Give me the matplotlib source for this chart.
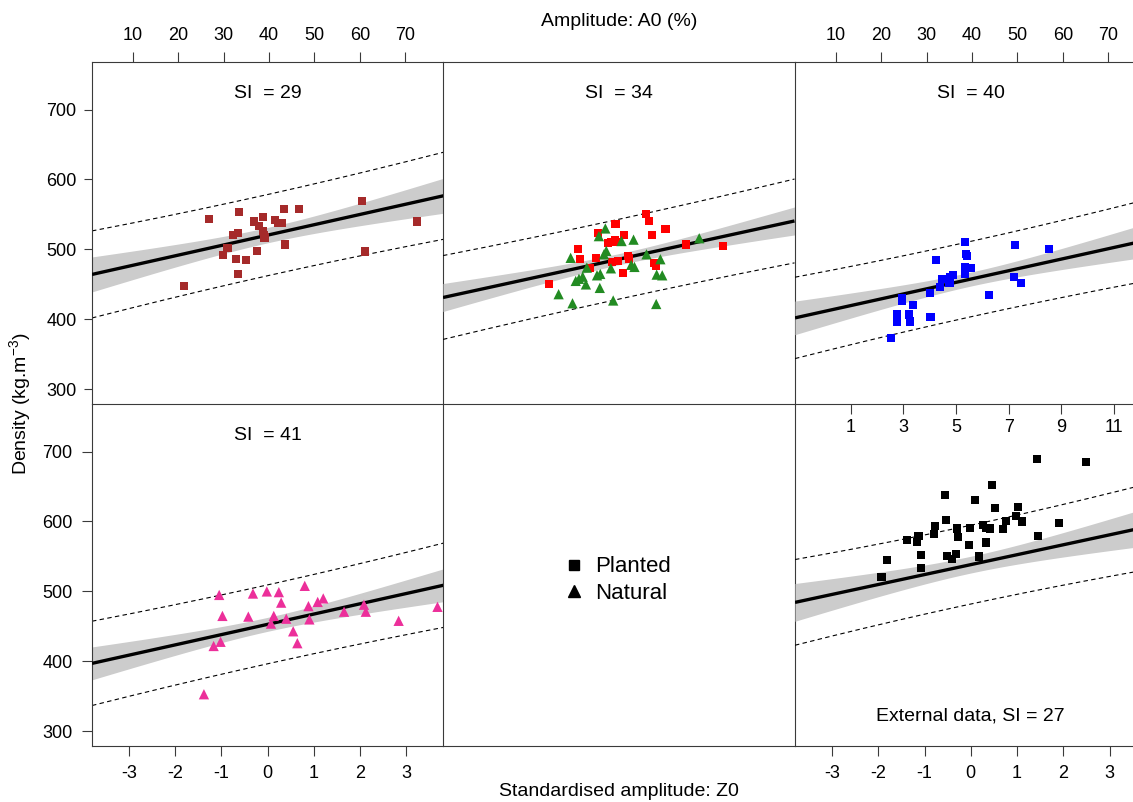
import matplotlib
matplotlib.use("Agg")
import matplotlib.pyplot as plt
import numpy as np
from matplotlib.lines import Line2D

plt.rcParams["font.family"] = ["Liberation Sans", "DejaVu Sans"]
plt.rcParams["mathtext.fontset"] = "custom"
plt.rcParams["mathtext.rm"] = "Liberation Sans"
plt.rcParams["axes.unicode_minus"] = False

FRAME = "#3a3a3a"
BAND = "#cccccc"

# standardisation A0 -> Z0 (model data, external data)
A0_MEAN, A0_SD = 39.7, 10.2
EXT_MEAN, EXT_SD = 5.56, 1.755

XLIM = (-3.8, 3.8)
YLIM = (279, 768)
Z_TICKS = [-3, -2, -1, 0, 1, 2, 3]
AMP_TICKS = [10, 20, 30, 40, 50, 60, 70]
EXT_AMP_TICKS = [1, 3, 5, 7, 9, 11]
Y_TICKS = [300, 400, 500, 600, 700]

# SI = 29 (planted)
P29_Z = [-1.27, -0.63, 0.35, 0.68, 2.04, 3.23, -0.30, -0.11, -0.19, 0.15, 0.23, 0.30, -0.10,
         -0.09, -0.07, -0.76, -0.65, -0.87, -0.96, -0.68, -0.48, -0.24, 0.37, 2.11, -0.65, -1.81]
P29_D = [544, 554, 558, 558, 569, 540, 540, 546, 533, 542, 538, 538, 527,
         521, 517, 520, 523, 502, 492, 486, 485, 498, 507, 497, 465, 448]

# SI = 34 (planted + natural)
P34_Z = [-1.51, -0.89, -0.84, -0.50, -0.44, -0.07, 0.11, -0.24, -0.17, -0.08, -0.03, 0.58, 0.65,
         0.72, 1.01, 1.45, 2.26, 0.20, 0.22, -0.15, -0.02, -0.63, 0.09, 0.76, 0.81]
P34_D = [451, 501, 486, 488, 524, 537, 521, 509, 511, 514, 510, 551, 541,
         521, 529, 507, 505, 491, 487, 482, 484, 473, 466, 481, 476]
N34_Z = [-0.29, -0.43, 0.06, 0.32, -0.27, -0.32, -1.04, -0.69, 0.60, 0.90, 1.74, -0.17, 0.27, 0.34,
         -0.47, -0.40, -0.78, -0.86, -0.93, -0.71, -0.41, 0.82, 0.94, -1.30, -1.00, -0.12, 0.81]
N34_D = [530, 519, 512, 514, 498, 493, 488, 474, 493, 486, 516, 473, 478, 475,
         463, 465, 461, 458, 455, 450, 445, 464, 463, 436, 423, 427, 422]

# SI = 40 (planted)
P40_Z = [-0.13, 0.95, 1.70, -0.75, -0.10, -0.08, -0.12, 0.00, -0.13, -0.39, -0.45, -0.62, -0.46, -0.66,
         -0.89, 0.94, 1.08, 0.40, -1.48, -1.48, -1.25, -1.60, -1.59, -1.33, -1.31, -0.87, -1.72]
P40_D = [511, 506, 500, 485, 494, 490, 475, 473, 465, 464, 461, 458, 452, 446,
         438, 461, 452, 435, 430, 426, 421, 407, 396, 407, 397, 404, 373]

# SI = 41 (natural)
N41_Z = [-1.05, -0.32, -0.02, 0.24, 0.80, 0.29, 0.88, 1.08, 1.20, -0.98, -0.42, 0.13, 0.07,
         0.40, 0.90, 1.65, 2.08, 2.12, 2.83, 3.67, 0.55, 0.64, -1.02, -1.17, -1.38]
N41_D = [495, 497, 500, 499, 508, 484, 479, 485, 490, 465, 464, 465, 454,
         461, 460, 471, 481, 471, 458, 478, 443, 426, 428, 422, 353]

# external data, SI = 27 (planted)
EXT_Z = [1.43, 2.49, 0.46, -0.55, 0.10, 0.53, 1.02, -0.53, 0.98, 0.77, 1.11, 1.90, -0.77, -0.80,
         -0.29, -0.02, 0.27, 0.33, 0.41, 0.70, -1.13, -1.16, -1.38, -0.28, 1.45, -0.04, 0.33, -1.08,
         -0.51, -0.41, -0.31, 0.18, -1.82, -1.08, -1.93]
EXT_D = [690, 685, 652, 638, 631, 619, 621, 602, 608, 601, 600, 598, 593, 582,
         590, 591, 595, 591, 590, 589, 579, 571, 573, 578, 579, 567, 570, 552,
         551, 546, 553, 550, 545, 534, 520]

# model fits per panel: SI 29, 34, 40, 41, external 27
FIT_INTERCEPT = [520.5, 486.0, 457.6, 453.0, 538.3]
FIT_SLOPE = [14.8, 14.4, 14.6, 14.7, 14.2]
CI_MID = [11, 8, 10, 10, 12]      # half width of confidence band at Z0 = 0
CI_EDGE = [25, 20, 24, 23.5, 27]  # half width at |Z0| = 3.8
PI_SD = [57, 56.5, 53, 55.5, 55]  # residual part of prediction interval

# pixel layout of the lattice (the right column runs off the canvas)
W, H = 1133, 802
COL_LEFT = [92, 443, 795]
COL_W = 351.5
ROW_TOP = [62, 404]
ROW_H = 342


def make_ax(fig, row, col):
    rect = (COL_LEFT[col] / W, 1 - (ROW_TOP[row] + ROW_H) / H, COL_W / W, ROW_H / H)
    ax = fig.add_axes(rect)
    ax.patch.set_visible(False)
    ax.set_xlim(*XLIM)
    ax.set_ylim(*YLIM)
    ax.tick_params(which="both", bottom=False, top=False, left=False, right=False,
                   labelbottom=False, labelleft=False)
    for s in ax.spines.values():
        s.set_color(FRAME)
        s.set_linewidth(0.8)
    # shared borders are drawn once
    if col > 0:
        ax.spines["left"].set_visible(False)
    if row > 0:
        ax.spines["top"].set_visible(False)
    return ax


def draw_fit(ax, i):
    z = np.linspace(XLIM[0], XLIM[1], 200)
    fit = FIT_INTERCEPT[i] + FIT_SLOPE[i] * z
    ci = np.sqrt(CI_MID[i] ** 2 + (CI_EDGE[i] ** 2 - CI_MID[i] ** 2) * (z / 3.8) ** 2)
    pi = np.sqrt(PI_SD[i] ** 2 + ci ** 2)
    ax.fill_between(z, fit - ci, fit + ci, color=BAND, lw=0, zorder=1)
    for sign in (-1, 1):
        ax.plot(z, fit + sign * pi, color="black", lw=0.8, dashes=(4, 3), zorder=2)
    ax.plot(z, fit, color="black", lw=2.4, zorder=3, solid_capstyle="butt")


def z_ticks_bottom(ax):
    ax.tick_params(bottom=True, labelbottom=True, direction="out", length=7,
                   width=0.8, color=FRAME, labelsize=13, pad=7)
    ax.set_xticks(Z_TICKS)


def amp_ticks_top(ax):
    sec = ax.secondary_xaxis("top", functions=(lambda z: A0_MEAN + A0_SD * z,
                                               lambda a: (a - A0_MEAN) / A0_SD))
    sec.set_xticks(AMP_TICKS)
    sec.tick_params(direction="out", length=7, width=0.8, color=FRAME, labelsize=13, pad=6)
    sec.spines["top"].set_visible(False)


def y_ticks_left(ax):
    ax.tick_params(left=True, labelleft=True, direction="out", length=6,
                   width=0.8, color=FRAME, labelsize=13, pad=5)
    ax.set_yticks(Y_TICKS)


def si_title(ax, text):
    ax.text(0.5, 0.909, text, transform=ax.transAxes, ha="center", va="center", fontsize=14)


fig = plt.figure(figsize=(W / 100, H / 100), dpi=100)

ax29 = make_ax(fig, 0, 0)
ax34 = make_ax(fig, 0, 1)
ax40 = make_ax(fig, 0, 2)
ax41 = make_ax(fig, 1, 0)
axleg = make_ax(fig, 1, 1)
axext = make_ax(fig, 1, 2)

sq = dict(marker="s", s=34, edgecolors="none", zorder=4)
tri = dict(marker="^", s=55, edgecolors="none", zorder=4)

draw_fit(ax29, 0)
ax29.scatter(P29_Z, P29_D, color="#a52a2a", **sq)
si_title(ax29, "SI  = 29")

draw_fit(ax34, 1)
ax34.scatter(P34_Z, P34_D, color="#ff0000", **sq)
ax34.scatter(N34_Z, N34_D, color="#228b22", **tri)
si_title(ax34, "SI  = 34")

draw_fit(ax40, 2)
ax40.scatter(P40_Z, P40_D, color="#0000ff", **sq)
si_title(ax40, "SI  = 40")

draw_fit(ax41, 3)
ax41.scatter(N41_Z, N41_D, color="#ec2f9a", **tri)
si_title(ax41, "SI  = 41")

draw_fit(axext, 4)
axext.scatter(EXT_Z, EXT_D, color="black", **sq)
axext.text(0.5, 0.088, "External data, SI = 27", transform=axext.transAxes,
           ha="center", va="center", fontsize=14)
ext_sec = axext.secondary_xaxis("top", functions=(lambda z: EXT_MEAN + EXT_SD * z,
                                                  lambda a: (a - EXT_MEAN) / EXT_SD))
ext_sec.set_xticks(EXT_AMP_TICKS)
ext_sec.tick_params(direction="in", length=7, width=0.8, color=FRAME, labelsize=13, pad=-23)
ext_sec.spines["top"].set_visible(False)

# ticks on the outside of the lattice
for ax in (ax29, ax41):
    y_ticks_left(ax)
for ax in (ax41, axext):
    z_ticks_bottom(ax)
for ax in (ax29, ax40):
    amp_ticks_top(ax)

handles = [
    Line2D([], [], marker="s", color="black", ls="none", ms=7.5),
    Line2D([], [], marker="^", color="black", ls="none", ms=8.5),
]
axleg.legend(handles, ["Planted", "Natural"], loc="center", bbox_to_anchor=(0.5, 0.485),
             frameon=False, fontsize=16, handlelength=0.6, handletextpad=0.65,
             labelspacing=0.25)

fig.text(619 / W, 1 - 22 / H, "Amplitude: A0 (%)", ha="center", va="center", fontsize=14)
fig.text(619 / W, 1 - 791 / H, "Standardised amplitude: Z0", ha="center", va="center", fontsize=14)
fig.text(21 / W, 1 - 404 / H, "Density (kg.m$^{-3}$)", ha="center", va="center",
         rotation=90, fontsize=14)

fig.savefig("out.png", dpi=100)
